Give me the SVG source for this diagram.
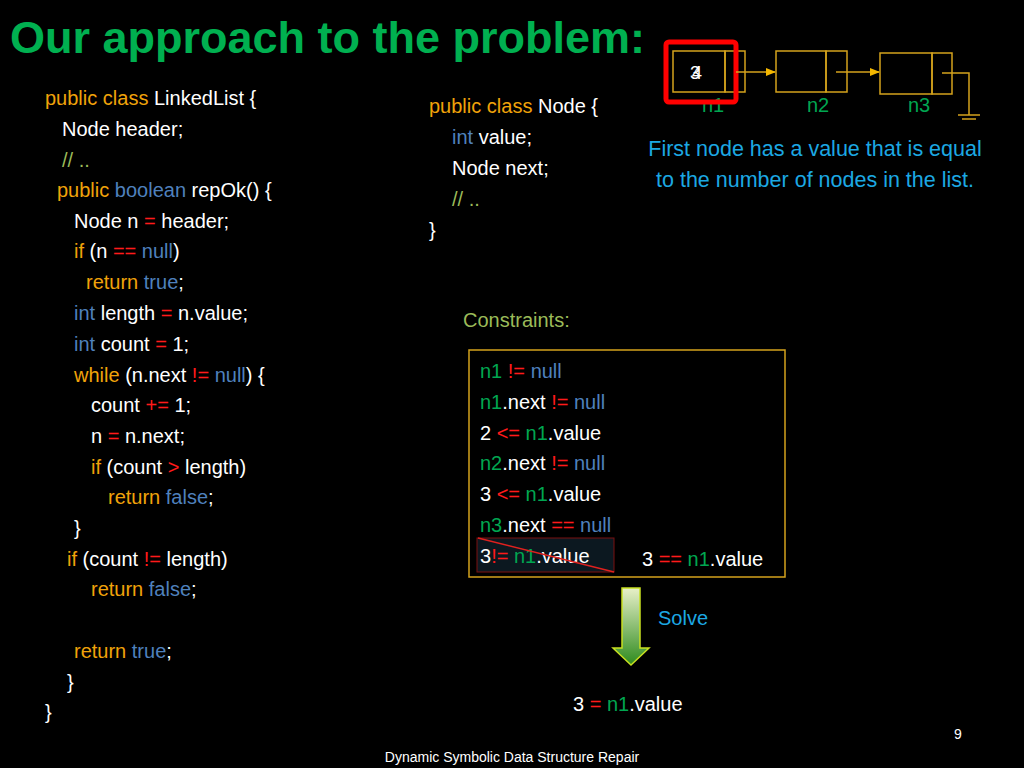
<svg xmlns="http://www.w3.org/2000/svg" width="1024" height="768" viewBox="0 0 1024 768">
<defs>
<style>
text{font-family:"Liberation Sans","Open Sans",sans-serif;font-size:20px;fill:#fff}
.k{fill:#f0a30a}.b{fill:#4f81bd}.r{fill:#ff1a1a}.g{fill:#00a651}.c{fill:#9bbb59}.lb{fill:#1ca8e3}
.box{fill:none;stroke:#d4a21c;stroke-width:1.5}
</style>
<marker id="ar" markerWidth="10" markerHeight="8" refX="9" refY="4" orient="auto" markerUnits="userSpaceOnUse"><path d="M0,0 L10,4 L0,8 Z" fill="#f5b800"/></marker>
<linearGradient id="gr" x1="0" y1="0" x2="0" y2="1"><stop offset="0" stop-color="#e8f0c8"/><stop offset="1" stop-color="#2e8b1e"/></linearGradient>
</defs>
<rect width="1024" height="768" fill="#000"/>
<text x="10" y="53" style="font-size:45px;font-weight:bold;fill:#00b050">Our approach to the problem:</text>
<g id="code" xml:space="preserve">
<text x="45" y="105"><tspan class="k">public class</tspan> LinkedList {</text>
<text x="62" y="136">Node header;</text>
<text x="62" y="167" class="c">// ..</text>
<text x="57" y="197"><tspan class="k">public</tspan> <tspan class="b">boolean</tspan> repOk() {</text>
<text x="74" y="228">Node n <tspan class="r">=</tspan> header;</text>
<text x="74" y="258"><tspan class="k">if</tspan> (n <tspan class="r">==</tspan> <tspan class="b">null</tspan>)</text>
<text x="86" y="289"><tspan class="k">return</tspan> <tspan class="b">true</tspan>;</text>
<text x="74" y="320"><tspan class="b">int</tspan> length <tspan class="r">=</tspan> n.value;</text>
<text x="74" y="351"><tspan class="b">int</tspan> count  <tspan class="r">=</tspan> 1;</text>
<text x="74" y="382"><tspan class="k">while</tspan> (n.next <tspan class="r">!=</tspan> <tspan class="b">null</tspan>) {</text>
<text x="91" y="412">count <tspan class="r">+=</tspan> 1;</text>
<text x="91" y="443">n <tspan class="r">=</tspan> n.next;</text>
<text x="91" y="474"><tspan class="k">if</tspan> (count <tspan class="r">&gt;</tspan> length)</text>
<text x="108" y="504"><tspan class="k">return</tspan> <tspan class="b">false</tspan>;</text>
<text x="74" y="535">}</text>
<text x="67" y="566"><tspan class="k">if</tspan> (count <tspan class="r">!=</tspan> length)</text>
<text x="91" y="596"><tspan class="k">return</tspan> <tspan class="b">false</tspan>;</text>
<text x="74" y="658"><tspan class="k">return</tspan> <tspan class="b">true</tspan>;</text>
<text x="67" y="689">}</text>
<text x="45" y="719">}</text>
</g>
<g id="nodecode">
<text x="429" y="113"><tspan class="k">public class</tspan> Node {</text>
<text x="452" y="144"><tspan class="b">int</tspan> value;</text>
<text x="452" y="175">Node next;</text>
<text x="452" y="206" class="c">// ..</text>
<text x="429" y="237">}</text>
</g>
<g id="n1"><rect x="673" y="51" width="52" height="41" class="box"/><rect x="725" y="51" width="20" height="41" class="box"/><text x="690" y="79" style="font-size:18px">3</text><text x="692" y="79" style="font-size:18px">4</text><text x="713" y="112" class="g" text-anchor="middle">n1</text><rect x="666" y="42" width="70" height="60" fill="none" stroke="#ff0000" stroke-width="5" rx="3"/></g>
<g id="n2"><rect x="776" y="51" width="50" height="41" class="box"/><rect x="826" y="51" width="21" height="41" class="box"/><text x="818" y="112" class="g" text-anchor="middle">n2</text></g>
<g id="n3"><rect x="880" y="53" width="52" height="41" class="box"/><rect x="932" y="53" width="20" height="41" class="box"/><text x="919" y="112" class="g" text-anchor="middle">n3</text></g>
<g id="connectors" stroke="#d4a21c" stroke-width="1.5" fill="none">
<line x1="736" y1="72" x2="775" y2="72" marker-end="url(#ar)"/>
<line x1="836" y1="72" x2="879" y2="72" marker-end="url(#ar)"/>
<polyline points="942,73 969,73 969,115"/>
<line x1="958" y1="115" x2="980" y2="115"/><line x1="962" y1="119" x2="976" y2="119"/>
</g>
<text x="815" y="156" class="lb" text-anchor="middle" style="font-size:21.5px">First node has a value that is equal</text>
<text x="815" y="187" class="lb" text-anchor="middle" style="font-size:21.5px">to the number of nodes in the list.</text>
<text x="463" y="327" class="c">Constraints:</text>
<g id="constraints">
<rect x="469" y="350" width="316" height="227" class="box"/>
<text x="480" y="378"><tspan class="g">n1</tspan> <tspan class="r">!=</tspan> <tspan class="b">null</tspan></text>
<text x="480" y="409"><tspan class="g">n1</tspan>.next <tspan class="r">!=</tspan> <tspan class="b">null</tspan></text>
<text x="480" y="440">2 <tspan class="r">&lt;=</tspan> <tspan class="g">n1</tspan>.value</text>
<text x="480" y="470"><tspan class="g">n2</tspan>.next <tspan class="r">!=</tspan> <tspan class="b">null</tspan></text>
<text x="480" y="501">3 <tspan class="r">&lt;=</tspan> <tspan class="g">n1</tspan>.value</text>
<text x="480" y="532"><tspan class="g">n3</tspan>.next <tspan class="r">==</tspan> <tspan class="b">null</tspan></text>
<rect x="477" y="538" width="137" height="34" fill="#0c1820" stroke="#7a1010"/>
<text x="480" y="563">3<tspan class="r">!=</tspan> <tspan class="g">n1</tspan>.value</text>
<line x1="478" y1="538" x2="614" y2="572" stroke="#e0201e" stroke-width="1.5"/>
<text x="642" y="566">3 <tspan class="r">==</tspan> <tspan class="g">n1</tspan>.value</text>
</g>
<path d="M622,588 H640 V648 H649 L631,665 L613,648 H622 Z" fill="url(#gr)" stroke="#c8e020" stroke-width="1.5"/>
<text x="658" y="625" class="lb">Solve</text>
<text x="573" y="711">3 <tspan class="r">=</tspan> <tspan class="g">n1</tspan>.value</text>
<text x="958" y="739" style="font-size:14px" text-anchor="middle">9</text>
<text x="512" y="762" style="font-size:14px" text-anchor="middle">Dynamic Symbolic Data Structure Repair</text>
</svg>
